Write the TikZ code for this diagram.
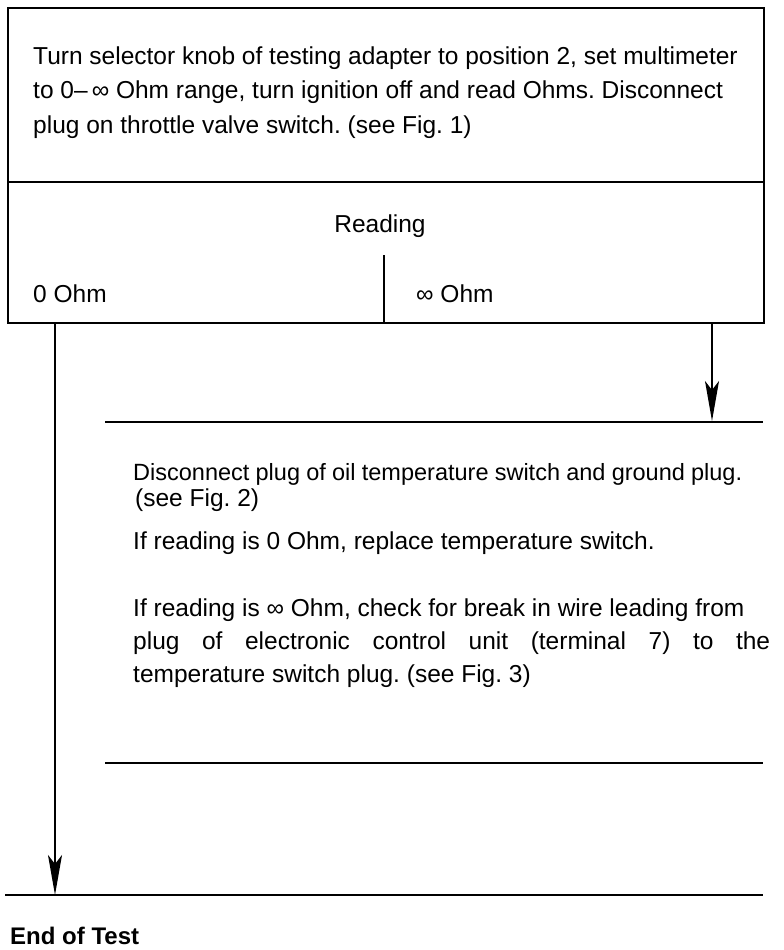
\documentclass[tikz,border=0pt]{standalone}
\usepackage{fontspec}
\setmainfont{Liberation Sans}
\usetikzlibrary{arrows.meta}
\frenchspacing
\begin{document}
\begin{tikzpicture}[x=1pt,y=-1pt,
  frame/.style={line width=1.6pt},
  rule/.style={line width=1.6pt},
  txt/.style={anchor=base west, inner sep=0pt, font=\fontsize{24.5}{28}\selectfont},
  tight/.style={txt, font=\fontsize{23.5}{28}\selectfont},
  bold/.style={txt, font=\fontsize{24}{28}\selectfont\bfseries},
  flow/.style={line width=1.8pt,-{Stealth[length=40pt,width=14pt,inset=9pt]}}]
\useasboundingbox (0,0) rectangle (784,950);
% top box
\node[frame, draw, minimum width=756pt, minimum height=315pt, anchor=north west, inner sep=0pt] (box) at (7,7) {};
\coordinate (d1) at (7,182);
\coordinate (d2) at (763,182);
\draw[frame] (d1) -- (d2);
\coordinate (v1) at (384,255);
\coordinate (v2) at (384,322);
\draw[frame] (v1) -- (v2);
\node[txt] (t1) at (33,65) {Turn selector knob of testing adapter to position 2, set multimeter};
\node[txt] (t2) at (33,99) {to 0–\,∞ Ohm range, turn ignition off and read Ohms. Disconnect};
\node[txt] (t3) at (33,133) {plug on throttle valve switch. (see Fig. 1)};
\node[txt, anchor=base] (reading) at (380,232) {Reading};
\node[txt] (zero) at (33,302) {0 Ohm};
\node[txt] (inf) at (416,302) {∞ Ohm};
% horizontal rules
\coordinate (m1a) at (105,422);
\coordinate (m1b) at (763,422);
\coordinate (m2a) at (105,763);
\coordinate (m2b) at (763,763);
\coordinate (e1) at (5,895);
\coordinate (e2) at (763,895);
\draw[rule] (m1a) -- (m1b);
\draw[rule] (m2a) -- (m2b);
\draw[rule] (e1) -- (e2);
% middle text
\node[tight] (p1) at (133,480) {\makebox[609pt][s]{Disconnect plug of oil temperature switch and ground plug.}};
\node[txt] (p2) at (135,506) {(see Fig. 2)};
\node[txt] (p3) at (133,549) {If reading is 0 Ohm, replace temperature switch.};
\node[txt] (p4) at (133,616) {If reading is ∞ Ohm, check for break in wire leading from};
\node[txt] (p5) at (133,649) {\makebox[637pt][s]{plug of electronic control unit (terminal 7) to the}};
\node[txt] (p6) at (133,682) {temperature switch plug. (see Fig. 3)};
\node[bold] (end) at (10,944) {End of Test};
% connectors
\coordinate (s0) at (55,322);
\coordinate (s0e) at (55,895);
\coordinate (s1) at (712,322);
\coordinate (s1e) at (712,421);
\draw[flow] (s0) -- (s0e);
\draw[flow] (s1) -- (s1e);
\end{tikzpicture}
\end{document}
